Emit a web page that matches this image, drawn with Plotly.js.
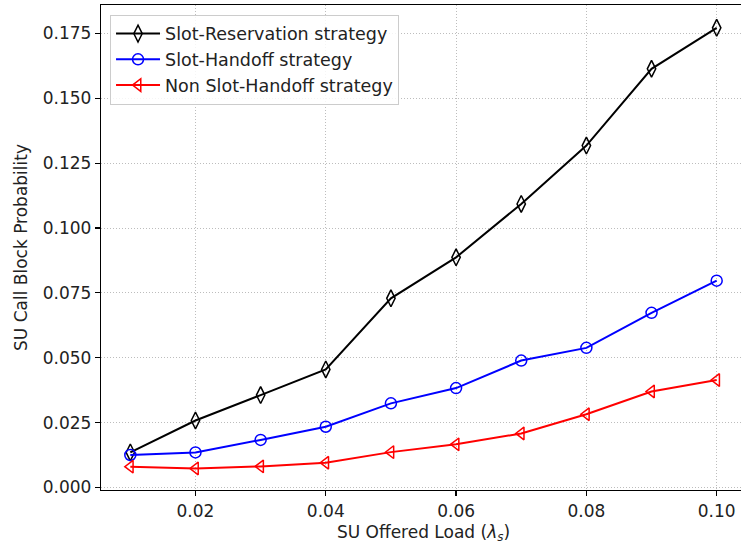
<!DOCTYPE html>
<html>
<head>
<meta charset="utf-8">
<script src="https://cdn.plot.ly/plotly-3.0.1.min.js"></script>
<style>
html,body{margin:0;padding:0;overflow:hidden;background:#fff;}
#chart{width:746px;height:547px;}
</style>
</head>
<body>
<div id="chart"></div>
<script>
const load = [0.01, 0.02, 0.03, 0.04, 0.05, 0.06, 0.07, 0.08, 0.09, 0.10];
const slotReservation = [0.0135, 0.0258, 0.0356, 0.0455, 0.0729, 0.0887, 0.1093, 0.1318, 0.1614, 0.1772];
const slotHandoff = [0.0125, 0.0135, 0.0183, 0.0234, 0.0324, 0.0383, 0.0489, 0.0538, 0.0673, 0.0797];
const nonSlotHandoff = [0.0080, 0.0073, 0.0081, 0.0095, 0.0136, 0.0166, 0.0208, 0.0282, 0.0370, 0.0414];
const seriesNames = ['Slot-Reservation strategy', 'Slot-Handoff strategy', 'Non Slot-Handoff strategy'];
const yTicks = [0, 0.025, 0.05, 0.075, 0.1, 0.125, 0.15, 0.175];
const yTickText = ['0.000','0.025','0.050','0.075','0.100','0.125','0.150','0.175'];
const xTicks = [0.02, 0.04, 0.06, 0.08, 0.10];
const xTickText = ['0.02','0.04','0.06','0.08','0.10'];

const font = 'DejaVu Sans, sans-serif';
const fs = 17;
const traces = [
  {x: load, y: slotReservation, name: seriesNames[0], mode: 'lines+markers', legendgroup: 'a',
   line: {color: '#000000', width: 2},
   marker: {symbol: 'diamond-tall-open', size: 12, color: '#000000', line: {width: 1.5, color: '#000000'}}},
  {x: load, y: slotHandoff, name: seriesNames[1], mode: 'lines+markers', legendgroup: 'b',
   line: {color: '#0000ff', width: 2},
   marker: {symbol: 'circle-open', size: 11, color: '#0000ff', line: {width: 1.5, color: '#0000ff'}}},
  {x: load, y: nonSlotHandoff, name: seriesNames[2], mode: 'lines+markers', legendgroup: 'c',
   line: {color: '#ff0000', width: 2},
   marker: {symbol: 'triangle-left-open', size: 11, color: '#ff0000', line: {width: 1.5, color: '#ff0000'}}}
];

const gridStyle = {showgrid: true, gridcolor: '#bdbdbd', griddash: '1px,2px', gridwidth: 1,
  zeroline: false, showline: true, linecolor: '#000000', linewidth: 1.2, mirror: true,
  ticks: 'outside', ticklen: 5, tickwidth: 1.2, tickcolor: '#000000',
  tickfont: {family: font, size: fs, color: '#222222'}};

const layout = {
  width: 746, height: 547,
  margin: {l: 101, r: 0, t: 5, b: 57},
  paper_bgcolor: '#ffffff', plot_bgcolor: '#ffffff',
  font: {family: font, size: fs, color: '#222222'},
  showlegend: true,
  legend: {x: 0.014, y: 0.98, xanchor: 'left', yanchor: 'top',
           traceorder: 'grouped', tracegroupgap: 0, itemwidth: 44,
           bgcolor: 'rgba(255,255,255,0.85)', bordercolor: '#cccccc', borderwidth: 1,
           font: {family: font, size: 17.5, color: '#222222'}},
  xaxis: Object.assign({range: [0.0055, 0.1045], tickvals: xTicks, ticktext: xTickText,
          title: {text: 'SU Offered Load (<i>λ</i><sub><i>s</i></sub>)', font: {family: font, size: fs}, standoff: 6}}, gridStyle),
  yaxis: Object.assign({range: [-0.001, 0.186], tickvals: yTicks, ticktext: yTickText,
          title: {text: 'SU Call Block Probability', font: {family: font, size: fs}, standoff: 10}}, gridStyle)
};

Plotly.newPlot('chart', traces, layout, {displayModeBar: false, staticPlot: true});
</script>
</body>
</html>
